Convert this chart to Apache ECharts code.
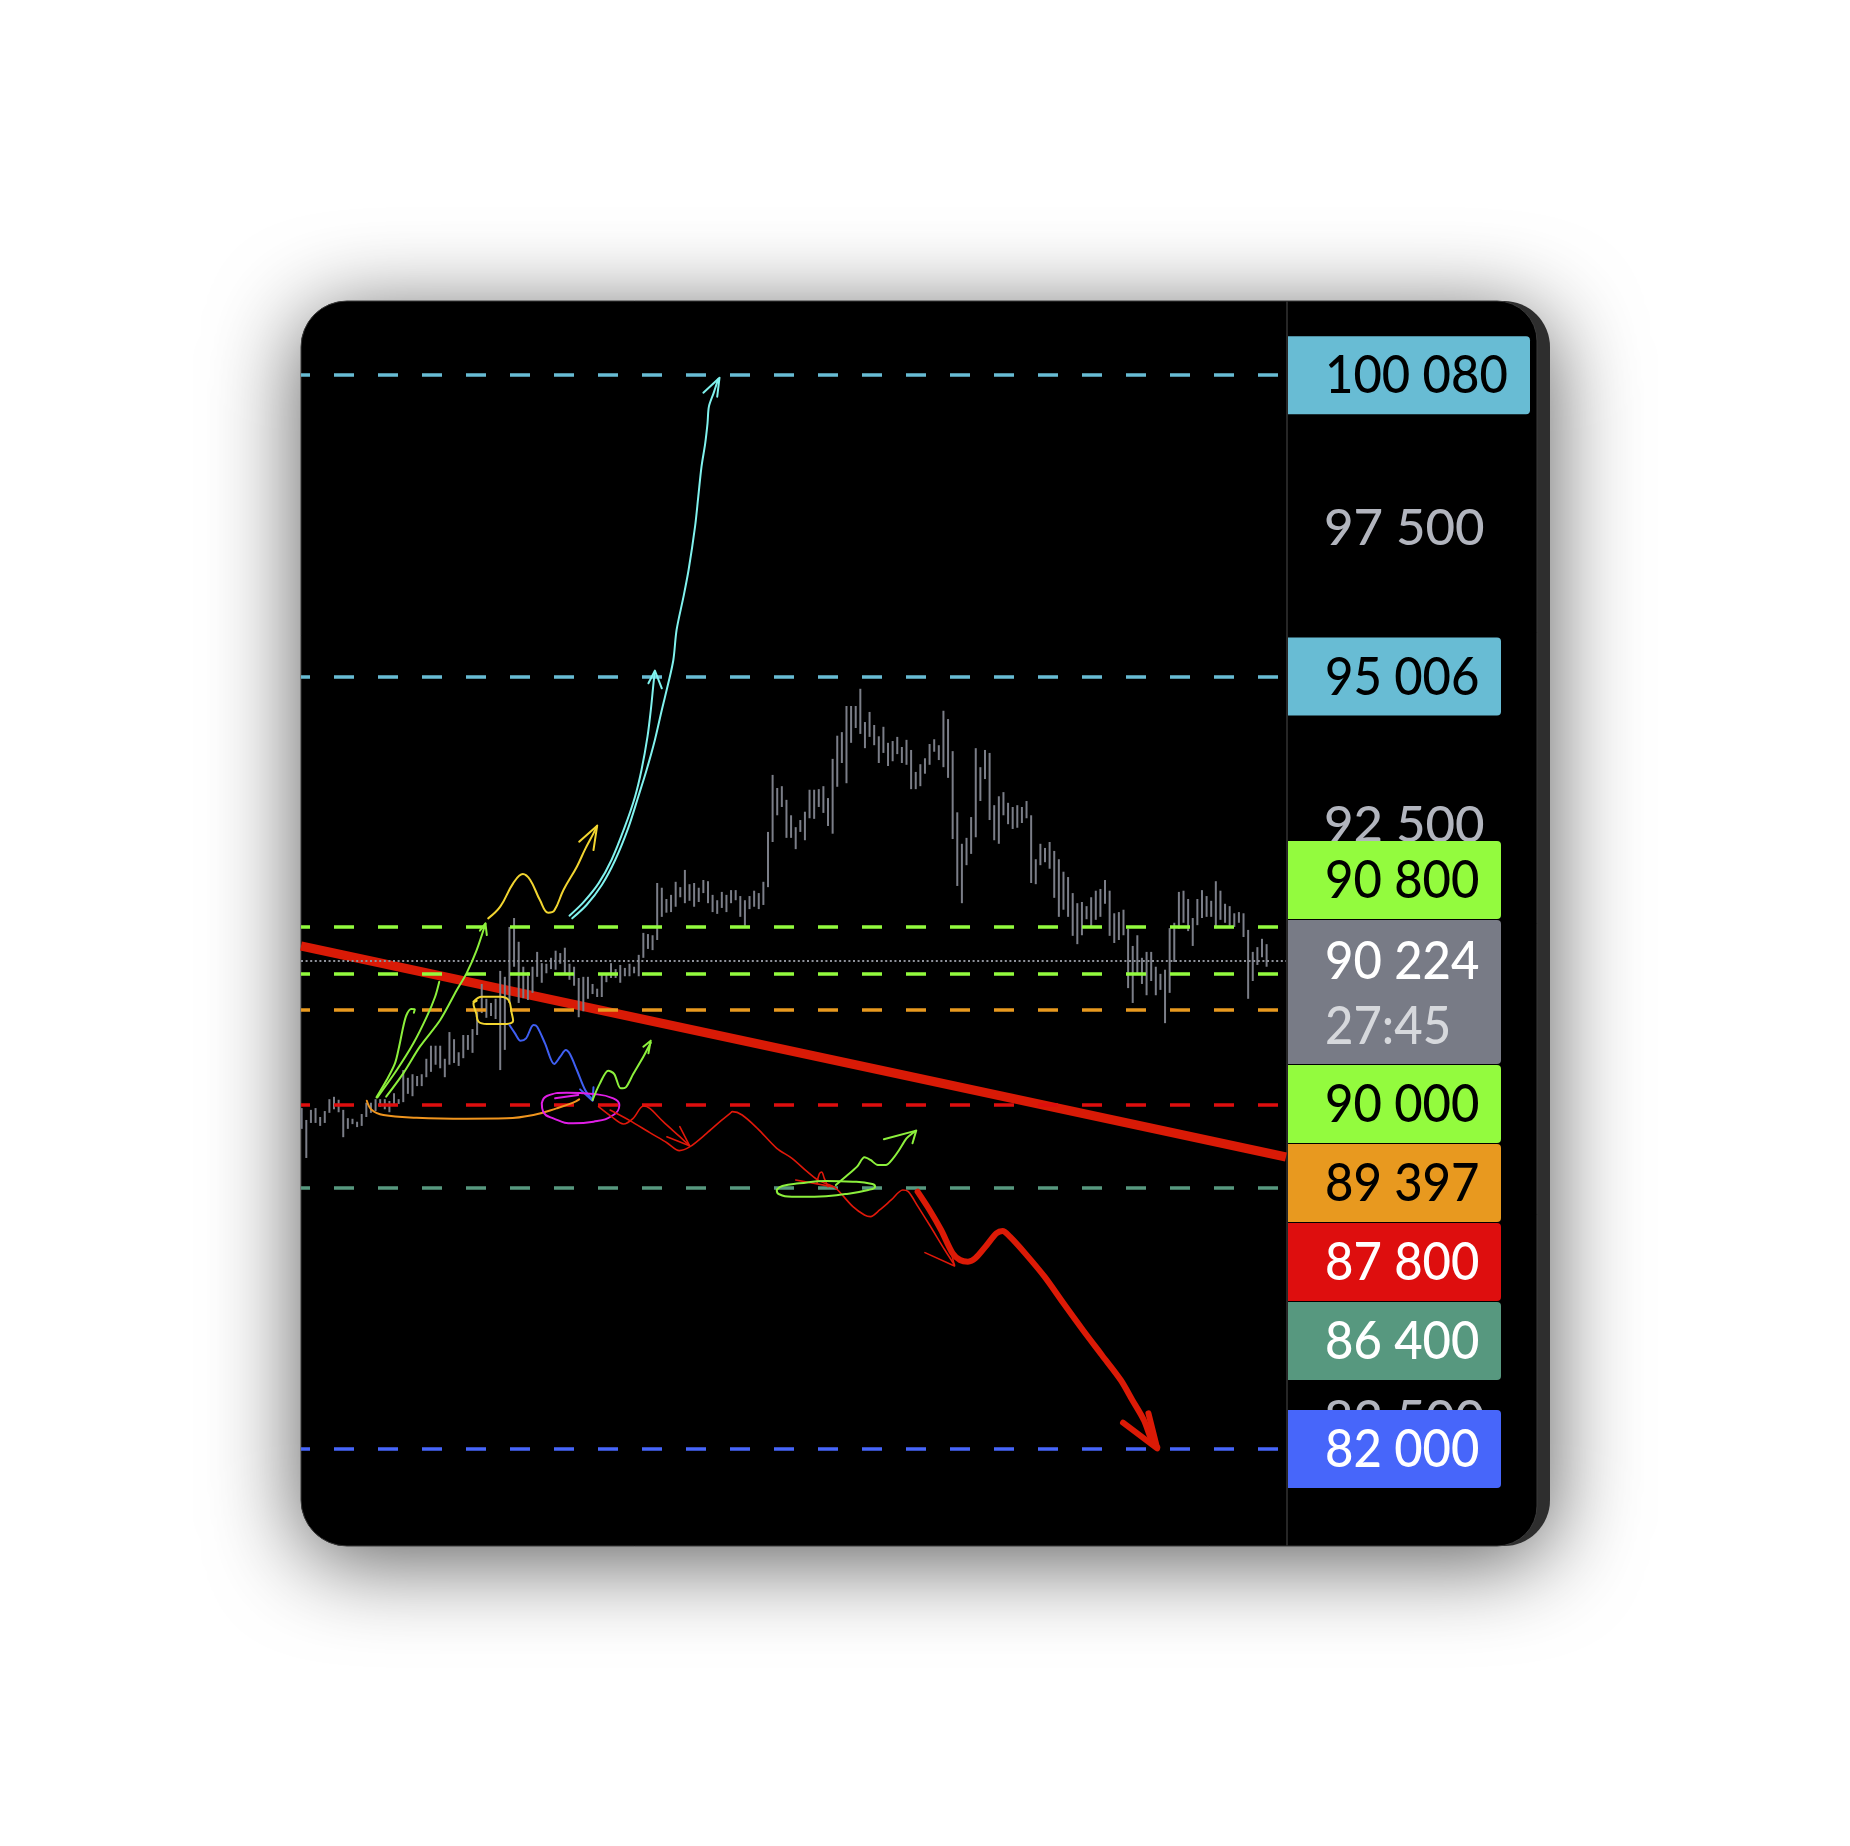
<!DOCTYPE html>
<html><head><meta charset="utf-8">
<script src="https://cdn.jsdelivr.net/npm/echarts@6/dist/echarts.min.js"></script>
<style>html,body{margin:0;padding:0;background:#fff}#c{width:1850px;height:1846px}</style>
</head><body><div id="c"></div>
<script>
// ---------------- DATA ----------------
const barHighs = [87740,87540,87710,87740,87590,87690,87890,87930,87880,87710,87570,87560,87510,87640,87830,87830,87890,87890,87890,87860,
87990,87890,88380,88250,88310,88280,88310,88570,88790,88790,88790,88570,89020,88900,88680,88970,88970,89070,89360,89830,
89580,89510,89580,90050,89950,90790,90940,90540,90120,90030,90120,90370,90180,90170,90270,90390,90350,90440,90170,90120,
89930,89950,89950,89830,89750,89980,90010,90180,90080,90150,90100,90170,90120,90320,90690,90670,90650,91530,91450,91260,
91330,91550,91460,91750,91510,91530,91450,91580,91560,91330,91240,91380,91330,91410,91410,91310,91240,91310,91400,91360,
91550,92390,93350,93130,93160,92930,92670,92470,92590,92730,93100,93100,93110,93160,92960,93620,94010,94070,94510,94510,
94510,94800,94240,94410,94190,94000,94160,93890,93920,93990,93820,93940,93770,93400,93530,93630,93870,93950,93850,94430,
94290,93750,92720,92190,92290,92640,93800,93480,93770,93720,92840,92990,93060,92880,92810,92840,92810,92910,92670,91930,
92190,92120,92220,92070,91930,91720,91630,91360,91190,91210,91140,91290,91400,91430,91580,91400,91020,91040,91080,90760,
90470,90650,90270,90370,90370,90120,90000,90070,90770,90860,91380,91400,91260,90940,91260,91410,91310,91230,91560,91400,
91180,91140,91020,91040,91020,90740,90370,90450,90590,90500];
const barLows = [87390,86900,87490,87490,87440,87490,87660,87720,87670,87250,87390,87470,87420,87440,87590,87660,87690,87760,87720,87670,
87780,87810,87840,87980,87940,88110,88110,88260,88350,88470,88410,88260,88470,88500,88450,88580,88720,88670,88970,89340,
89260,89290,89240,88380,88720,89510,90120,89510,89590,89560,89680,89950,89850,90010,90080,90070,90170,90010,89900,89800,
89270,89370,89580,89660,89610,89610,89860,89930,89930,89850,89960,89960,90010,89960,90270,90420,90400,90570,90960,91030,
91040,91130,91290,91190,91230,91130,91210,91360,91190,91040,91010,91110,91040,91190,91240,90960,90810,91090,91130,91090,
91160,91460,92220,92670,92810,92290,92290,92100,92390,92250,92620,92610,92810,92710,92490,92360,93150,93550,93210,93890,
94140,94040,93800,93990,93850,93550,93720,93500,93580,93700,93550,93520,93110,93110,93160,93370,93520,93740,93600,93480,
93300,92270,91480,91190,91830,92020,92300,92910,93280,92590,92250,92190,92670,92520,92440,92460,92540,92620,91530,91510,
91830,91880,91770,91280,90960,91080,90960,90640,90500,90650,90920,90770,90910,90960,91180,90640,90520,90570,90650,89760,
89510,90010,89830,89640,89880,89640,89730,89170,89680,90200,90760,90860,90720,90470,90820,90940,90960,90960,90770,90910,
90860,90810,90790,90860,90620,89580,89880,90150,90280,90120];

const levelValues = [100080, 95006, 90800, 90000, 89397, 87800, 86400, 82000];
const currentPrice = 90224;
const countdown = '27:45';
const axisMin = 80000, axisMax = 102500, axisStep = 2500;
const indexMin = -0.15, indexMax = 213.2;

const trendLine = [[-0.15, 90469], [213.2, 86916]];
const greenShort = [[16.2,87921],[18.4,88212],[20.2,88493],[21.1,88774],[22.0,89110],[22.7,89307],[23.7,89408],[24.5,89402],[24.3,89346]];
const greenLong1 = [[16.4,87921],[20.6,88381],[24.2,88830],[27.1,89279],[28.9,89615],[29.8,89868]];
const greenLong2 = [[18.3,87932],[22.0,88325],[25.6,88774],[30.0,89223],[33.6,89728],[35.7,90009],[37.9,90401],[39.8,90845]];
const greenLong2Head = [[38.6,90727],[39.8,90850],[40.1,90654]];
const yellowWave = [[40.4,90934],[43.0,91131],[45.8,91524],[47.9,91681],[49.5,91580],[51.6,91243],[53.4,91030],[54.7,91064],[56.7,91412],[59.6,91804],[61.4,92100],[63.2,92366],[64.0,92495]];
const yellowHead = [[60.1,92226],[64.0,92495],[63.2,92085]];
const cyanUp1 = [[58.0,90980],[61.0,91204],[64.3,91524],[67.1,91917],[70.0,92478],[72.2,92983],[73.6,93432],[74.9,93994],[75.7,94499],[76.2,94892],[76.5,95088]];
const cyanUp1Head = [[75.1,94892],[76.5,95105],[78.0,94808]];
const cyanUp2 = [[58.6,90935],[61.7,91159],[65.0,91496],[67.9,91917],[70.7,92450],[72.9,92983],[74.7,93432],[76.5,93938],[78.0,94443],[79.4,94892],[80.5,95285],[81.2,95790],[82.7,96351],[83.8,96800],[85.2,97530],[85.9,98035],[86.6,98540],[87.4,98933],[87.9,99270],[88.2,99550],[89.2,99775],[90.2,100010]];
const cyanUp2Head = [[87.0,99786],[90.5,100038],[90.0,99719]];
const yellowLoop = [[37.2,89531],[39.0,89616],[43.0,89616],[44.8,89560],[45.5,89335],[45.8,89211],[44.4,89155],[40.1,89155],[38.3,89195],[37.8,89335],[37.2,89503],[37.9,89548]];
const orangeBase = [[14.1,87864],[15.2,87707],[17.7,87623],[24.9,87578],[35.7,87561],[44.4,87567],[50.2,87623],[55.2,87735],[58.8,87831],[60.1,87887]];
const blueZigzag = [[45.0,89138],[46.2,88998],[47.4,88875],[48.6,88914],[50.2,89138],[51.0,89110],[52.7,88830],[54.7,88482],[56.0,88605],[57.2,88718],[58.1,88650],[59.6,88381],[61.4,88044],[63.0,87876]];
const blueHead = [[60.3,88055],[63.0,87864],[63.2,88089]];
const magentaLoop = [[52.0,87820],[53.1,87943],[57.4,87999],[63.2,87977],[67.5,87904],[68.8,87792],[67.5,87623],[63.2,87511],[58.8,87483],[54.5,87567],[52.3,87679],[52.0,87820]];
const magentaTick = [[54.9,87904],[59.9,87960]];
const greenBounce = [[63.0,87876],[64.6,88156],[66.4,88370],[67.7,88313],[69.1,88072],[70.2,88089],[71.8,88313],[74.0,88605],[75.6,88841]];
const greenBounceHead = [[74.0,88774],[75.6,88875],[75.1,88662]];
const redThin1 = [[64.3,87763],[67.1,87595],[69.7,87471],[71.8,87567],[74.0,87775],[75.4,87735],[78.3,87511],[81.9,87258],[84.0,87107]];
const redThin1Head = [[79.1,87258],[84.0,87107],[81.9,87427]];
const redThin2 = [[66.8,87707],[71.1,87528],[75.4,87326],[79.1,87157],[81.8,87023],[84.1,87090],[87.7,87314],[90.6,87511],[92.8,87651],[93.3,87680],[95.4,87624],[98.7,87399],[102.9,87062],[106.2,86894],[109.5,86669],[112.0,86518],[114.9,86428],[116.1,86361],[119.4,86080],[121.9,85940],[123.2,85912],[125.2,86024],[127.7,86193],[130.2,86361],[131.4,86333],[133.5,86080],[136.0,85771],[139.3,85350],[141.4,85098]];
const redThin2Head = [[135.0,85306],[141.4,85081],[140.1,85491]];
const redTick = [[107.0,86529],[114.9,86417]];
const redLoop = [[111.6,86473],[112.1,86630],[112.6,86664],[113.2,86557],[114.0,86417]];
const greenOval = [[102.9,86361],[104.1,86428],[107.8,86473],[113.6,86512],[119.4,86501],[123.6,86462],[124.2,86417],[122.7,86361],[117.8,86293],[111.1,86249],[106.2,86249],[103.3,86293],[102.9,86361]];
const greenRebound = [[115.7,86445],[117.8,86585],[120.3,86754],[121.9,86911],[123.2,86866],[124.8,86782],[126.5,86782],[128.1,86894],[129.4,87034],[131.0,87230],[132.3,87315],[133.1,87360]];
const greenReboundHead = [[126.1,87214],[133.1,87360],[132.3,87147]];
const redBigArrow = [[133.4,86333],[136.0,86024],[138.5,85687],[141.0,85294],[142.6,85182],[144.3,85154],[145.9,85210],[148.4,85435],[150.5,85631],[151.8,85670],[153.4,85575],[156.7,85294],[160.9,84901],[165.0,84452],[169.2,84003],[173.3,83582],[177.4,83161],[179.9,82825],[182.4,82488],[184.1,82151],[185.3,82028]];
const redBigHead = [[177.9,82443],[185.3,82011],[183.4,82600]];

// ---------------- STYLE ----------------
const levelStyles = [
  {c:'#68bcd4', fg:'#000000'},
  {c:'#68bcd4', fg:'#000000'},
  {c:'#93fb3e', fg:'#000000'},
  {c:'#93fb3e', fg:'#000000'},
  {c:'#e8991f', fg:'#000000'},
  {c:'#de0e0e', fg:'#ffffff'},
  {c:'#57987f', fg:'#ffffff'},
  {c:'#4766fa', fg:'#ffffff'}
];
const G='#8cf03c', Y='#f2d530', C='#80f2ee', O='#f0951e', B='#3f5ff2', M='#e01ee6', R='#e0180a';
const sketches = [
  [orangeBase,O,2,0.4],[greenShort,G,2,0.3],[greenLong1,G,2,0.3],[greenLong2,G,2,0.3],[greenLong2Head,G,2,0],
  [yellowWave,Y,2,0.4],[yellowHead,Y,2,0],[cyanUp1,C,2,0.3],[cyanUp1Head,C,2,0],[cyanUp2,C,2,0.3],[cyanUp2Head,C,2,0],
  [yellowLoop,Y,2,0.4],[blueZigzag,B,2,0.3],[blueHead,B,2,0],[magentaLoop,M,2,0.5],[magentaTick,M,2,0],
  [greenBounce,G,2,0.3],[greenBounceHead,G,2,0],[redThin1,R,1.6,0.3],[redThin1Head,R,1.6,0],[redThin2,R,1.6,0.3],[redThin2Head,R,1.6,0],
  [redTick,R,1.6,0],[redLoop,R,1.6,0.4],[greenOval,G,2,0.5],[greenRebound,G,2,0.3],[greenReboundHead,G,2,0],
  [redBigArrow,'#dc1a06',6,0.3],[redBigHead,'#dc1a06',6,0]
];

function fmt(v){ return String(v).replace(/\B(?=(\d{3})+(?!\d))/g,'\u202F'); }

const chart = echarts.init(document.getElementById('c'), null, {renderer:'canvas'});
const GRID = {left:301, width:985, top:231.47, height:1336.3};
const FONT_W = 500;
const AXIS_FONT_SIZE = 51;
const BOX_FONT_SIZE = 53, BOX_SCALE_X = 0.925;
const BOX_FONT = FONT_W + ' ' + BOX_FONT_SIZE + 'px Lato';

const panelGraphics = [
  {id:'outer', type:'rect', z:-20, shape:{x:301,y:301,width:1249,height:1245,r:46},
   style:{fill:'#2e2e2e', shadowBlur:90, shadowColor:'rgba(0,0,0,0.65)', shadowOffsetY:14}},
  {id:'inner', type:'rect', z:-19, shape:{x:301,y:301,width:1236,height:1245,r:[46,40,40,46]},
   style:{fill:'#000000', stroke:'#3a3a3a', lineWidth:1}},
  {id:'sep', type:'line', z:-18, shape:{x1:1287,y1:301,x2:1287,y2:1546}, style:{stroke:'#262626', lineWidth:2}}
];

const series = [];
series.push({
  type:'line', data:[], z:1, silent:true,
  markLine:{
    silent:true, symbol:['none','none'], animation:false, label:{show:false},
    data: levelValues.map((v,i)=>({yAxis:v, lineStyle:{color:levelStyles[i].c, width:3.5, type:[20,24], dashOffset:11}}))
      .concat([{yAxis:currentPrice, lineStyle:{color:'#8f929b', width:2, type:[2,2.6]}}])
  }
});
series.push({type:'line', data:trendLine, z:2, symbol:'none', silent:true,
  lineStyle:{color:'#d91a06', width:9, cap:'butt'}});
series.push({
  type:'custom', z:3, silent:true,
  data: barHighs.map((h,i)=>[i, barLows[i], h]),
  renderItem(params, api){
    const lo = api.coord([api.value(0), api.value(1)]);
    const hi = api.coord([api.value(0), api.value(2)]);
    return {type:'rect', shape:{x:lo[0]-1, y:hi[1], width:2, height:Math.max(1, lo[1]-hi[1])}, style:{fill:'#7b7e88'}};
  }
});
sketches.forEach(([d,c,w,s])=>{
  series.push({type:'line', data:d, z:5, symbol:'none', smooth:s, silent:true, clip:false,
    lineStyle:{color:c, width:w, cap:'round', join:'round'}});
});

chart.setOption({
  animation:false,
  backgroundColor:'#ffffff',
  grid:GRID,
  xAxis:{type:'value', min:indexMin, max:indexMax, show:false},
  yAxis:{type:'value', position:'right', min:axisMin, max:axisMax, interval:axisStep,
    axisLine:{show:false}, axisTick:{show:false}, splitLine:{show:false},
    axisLabel:{show:true, showMinLabel:false, showMaxLabel:false, color:'#b2b5be', fontFamily:'Lato', fontWeight:FONT_W, fontSize:AXIS_FONT_SIZE,
      align:'left', margin:38, formatter:(v)=>fmt(v)}},
  graphic:{elements:panelGraphics},
  series
});

// ---- price-axis labels, stacked around the fixed current-price label ----
const ctx = document.createElement('canvas').getContext('2d');
ctx.font = BOX_FONT;
const tw = s => ctx.measureText(s).width * BOX_SCALE_X;
const py = v => chart.convertToPixel({yAxisIndex:0}, v);
const H = 78, GAP = 1, CUR_H = 144, CUR_ABOVE = 40.5;
const cur = {top: py(currentPrice) - CUR_ABOVE, h: CUR_H};
const items = levelValues.map((v,i)=>({v, i, y:py(v), h:H}));
items.sort((a,b)=>a.y-b.y);
let nextTop = cur.top;
items.filter(it=>it.y < py(currentPrice)).reverse().forEach(it=>{
  it.top = Math.min(it.y - H/2, nextTop - GAP - H); nextTop = it.top;
});
let prevBottom = cur.top + cur.h;
items.filter(it=>it.y >= py(currentPrice)).forEach(it=>{
  it.top = Math.max(it.y - H/2, prevBottom + GAP); prevBottom = it.top + H;
});
const BOX_X = 1288, PAD_L = 37, PAD_R = 22;
const labelGraphics = [];
function boxText(id, x, y, text, fill){
  return {id, type:'text', z:101, x, y, scaleX:BOX_SCALE_X,
    style:{text, fill, font:BOX_FONT, textAlign:'left', textVerticalAlign:'middle'}};
}
items.forEach(it=>{
  const txt = fmt(it.v);
  const w = Math.round(tw(txt) + PAD_L + PAD_R);
  const st = levelStyles[it.i];
  labelGraphics.push({id:'box'+it.i, type:'rect', z:100, shape:{x:BOX_X, y:it.top, width:w, height:H, r:[0,4,4,0]}, style:{fill:st.c}});
  labelGraphics.push(boxText('txt'+it.i, BOX_X+PAD_L, it.top+H/2+1, txt, st.fg));
});
const curW = Math.round(tw(fmt(currentPrice)) + PAD_L + PAD_R);
labelGraphics.push({id:'curbox', type:'rect', z:100, shape:{x:BOX_X, y:cur.top, width:curW, height:CUR_H, r:[0,4,4,0]}, style:{fill:'#787b86'}});
labelGraphics.push(boxText('curtxt', BOX_X+PAD_L, py(currentPrice)+1, fmt(currentPrice), '#ffffff'));
labelGraphics.push(boxText('cdtxt', BOX_X+PAD_L, py(currentPrice)+66, countdown, '#d6d8dc'));

chart.setOption({graphic:{elements:panelGraphics.concat(labelGraphics)}});
</script></body></html>
